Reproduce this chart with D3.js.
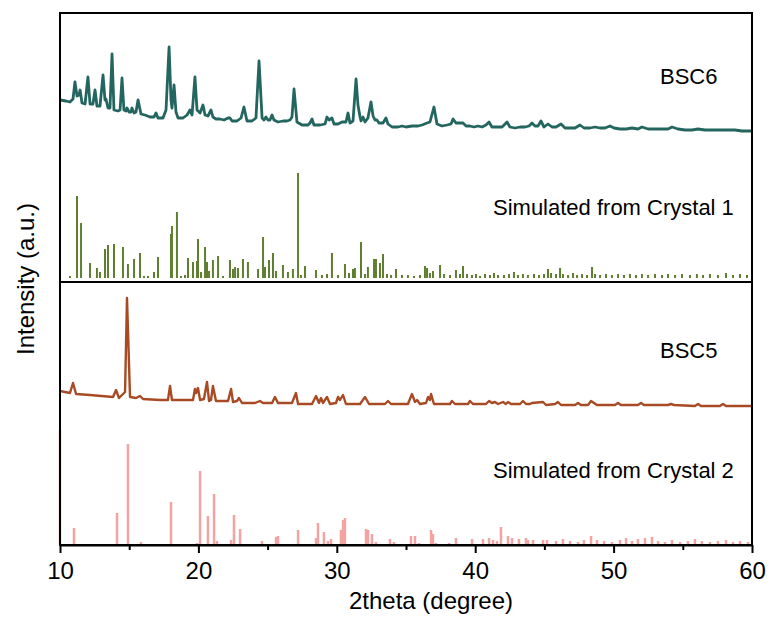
<!DOCTYPE html>
<html>
<head>
<meta charset="utf-8">
<script src="https://cdn.jsdelivr.net/npm/d3@7"></script>
<style>
  body { margin: 0; background: #fff; }
  text { font-family: "Liberation Sans", Arial, sans-serif; }
</style>
</head>
<body>
<script>
// XRD patterns, stacked with offsets (a.u.)
let seriesNames = ['BSC6', 'Simulated from Crystal 1', 'BSC5', 'Simulated from Crystal 2'];
let xTicks = [10, 20, 30, 40, 50, 60];
let xMinorTicks = [15, 25, 35, 45, 55];

// measured pattern of BSC6: [2theta, intensity]
let bsc6 = [
  [10.00,45],[10.43,44],[10.72,43],[10.94,46],[11.08,63],[11.23,49],[11.37,50],[11.45,55],[11.59,42],[11.81,41],
  [12.02,68],[12.17,41],[12.38,41],[12.53,55],[12.67,39],[12.89,39],[13.11,70],[13.25,45],[13.32,46],[13.47,37],
  [13.61,37],[13.76,91],[13.90,35],[14.19,34],[14.34,35],[14.48,67],[14.62,35],[14.77,34],[14.84,37],[14.99,33],
  [15.13,33],[15.20,37],[15.35,32],[15.49,33],[15.64,45],[15.85,31],[16.14,30],[16.50,28],[16.79,28],[16.94,32],
  [17.08,27],[17.44,27],[17.66,35],[17.88,98],[18.02,45],[18.09,37],[18.24,60],[18.38,33],[18.53,27],[18.89,27],
  [19.18,30],[19.39,35],[19.54,30],[19.75,68],[19.90,35],[20.12,32],[20.33,40],[20.48,30],[20.69,29],[20.91,35],
  [21.05,28],[21.27,26],[21.56,26],[21.85,25],[22.14,27],[22.28,27],[22.43,24],[22.79,24],[23.08,27],[23.29,38],
  [23.51,24],[23.87,24],[24.16,27],[24.38,84],[24.60,27],[24.74,25],[24.88,28],[25.03,25],[25.17,25],[25.32,30],
  [25.46,25],[25.75,23],[26.11,24],[26.40,24],[26.62,25],[26.76,28],[26.91,56],[27.12,23],[27.49,20],[27.92,20],
  [28.06,22],[28.21,26],[28.35,20],[28.79,20],[29.15,21],[29.29,28],[29.44,25],[29.65,27],[29.80,21],[30.09,21],
  [30.38,23],[30.66,23],[30.81,32],[30.95,22],[31.17,24],[31.39,66],[31.53,40],[31.68,28],[31.75,24],[31.89,28],
  [32.04,23],[32.25,27],[32.47,43],[32.62,29],[32.76,25],[32.90,25],[33.05,22],[33.34,22],[33.55,27],[33.70,21],
  [33.99,18],[34.42,18],[34.71,19],[35.00,18],[35.43,19],[35.87,19],[36.16,20],[36.52,22],[36.73,23],[37.02,38],
  [37.24,21],[37.60,19],[37.96,20],[38.25,21],[38.40,26],[38.61,22],[38.90,22],[39.12,22],[39.34,19],[39.62,19],
  [39.91,18],[40.20,19],[40.49,18],[40.78,20],[41.00,23],[41.21,18],[41.57,18],[41.94,18],[42.30,23],[42.51,18],
  [42.88,17],[43.24,18],[43.60,18],[43.89,19],[44.10,22],[44.32,19],[44.54,19],[44.75,24],[44.97,18],[45.26,21],
  [45.55,18],[45.84,18],[46.20,21],[46.49,17],[46.85,17],[47.21,17],[47.57,20],[47.86,17],[48.29,17],[48.66,18],
  [49.02,17],[49.38,17],[49.74,19],[50.03,17],[50.46,16],[50.90,16],[51.33,17],[51.76,16],[52.05,18],[52.49,16],
  [52.99,16],[53.50,16],[53.93,16],[54.22,18],[54.65,16],[55.16,15],[55.66,15],[56.10,16],[56.60,15],[57.11,15],
  [57.68,15],[58.27,15],[58.77,15],[59.28,14],[60.00,14]
];

// simulated peaks of Crystal 1: [2theta, intensity]
let crystal1 = [
  [10.72,2],[11.23,82],[11.52,55],[12.17,15],[12.67,10],[12.89,6],[13.25,29],[13.47,33],[13.90,34],[14.55,31],
  [14.91,14],[15.35,19],[15.78,25],[16.07,2],[16.36,2],[16.79,6],[17.08,21],[18.02,44],[18.09,52],[18.45,66],
  [18.74,2],[19.03,3],[19.25,20],[19.61,16],[19.90,17],[19.97,39],[20.19,6],[20.48,31],[20.62,16],[20.77,7],
  [21.05,18],[21.42,22],[21.78,2],[22.28,18],[22.50,9],[22.65,11],[22.86,10],[23.22,19],[23.58,16],[24.31,9],
  [24.67,41],[24.81,11],[25.10,18],[25.39,25],[25.61,7],[26.11,13],[26.47,6],[26.83,9],[27.20,105],[27.41,3],
  [27.70,12],[28.50,8],[28.93,3],[29.29,4],[29.65,25],[30.09,3],[30.59,14],[30.88,5],[31.17,9],[31.31,10],
  [31.75,36],[32.04,4],[32.25,11],[32.69,19],[32.83,19],[33.12,15],[33.34,24],[33.63,4],[33.92,3],[34.28,9],
  [34.71,3],[35.14,3],[35.58,2],[36.01,3],[36.37,12],[36.52,10],[36.73,5],[36.95,7],[37.46,13],[37.75,4],
  [38.18,3],[38.61,8],[38.90,4],[39.12,12],[39.41,4],[39.77,3],[40.06,4],[40.35,2],[40.71,4],[41.07,3],
  [41.36,5],[41.65,3],[42.08,3],[42.44,4],[42.80,6],[43.09,3],[43.45,4],[43.81,3],[44.25,4],[44.61,3],
  [44.97,4],[45.26,9],[45.48,5],[45.84,4],[46.13,10],[46.34,4],[46.71,3],[47.07,5],[47.36,3],[47.72,4],
  [48.08,3],[48.44,11],[48.66,4],[49.02,3],[49.45,4],[49.88,3],[50.32,4],[50.75,3],[51.18,4],[51.62,3],
  [52.05,4],[52.49,3],[52.99,4],[53.50,3],[53.93,4],[54.44,3],[54.94,4],[55.52,3],[56.02,4],[56.46,3],
  [56.96,4],[57.54,3],[58.12,5],[58.63,3],[59.13,4],[59.64,3]
];

// measured pattern of BSC5: [2theta, intensity]
let bsc5 = [
  [10.00,24],[10.72,22],[10.94,32],[11.16,21],[12.17,20],[13.83,18],[14.05,25],[14.26,17],[14.70,23],[14.84,117],
  [15.06,18],[15.49,17],[15.78,19],[16.00,16],[17.23,15],[17.80,15],[17.95,29],[18.09,15],[19.03,15],[19.61,15],
  [19.75,26],[19.83,22],[19.97,27],[20.12,15],[20.40,16],[20.62,33],[20.77,14],[20.91,15],[21.05,29],[21.27,14],
  [22.14,14],[22.36,26],[22.50,13],[22.79,14],[22.93,17],[23.15,12],[24.09,12],[24.45,14],[24.67,12],[25.32,12],
  [25.53,18],[25.75,12],[26.76,12],[27.05,22],[27.20,11],[28.21,11],[28.50,19],[28.71,12],[28.86,17],[29.00,12],
  [29.29,18],[29.51,11],[29.94,12],[30.09,18],[30.23,15],[30.45,20],[30.66,11],[31.68,11],[32.04,18],[32.33,11],
  [33.48,11],[33.70,14],[33.92,11],[35.14,11],[35.43,21],[35.65,13],[35.80,15],[36.01,11],[36.45,12],[36.59,18],
  [36.73,15],[36.81,21],[37.02,11],[38.18,11],[38.32,14],[38.54,11],[39.48,11],[39.62,14],[39.84,11],[40.78,11],
  [41.00,14],[41.21,12],[41.43,13],[41.65,11],[42.01,13],[42.22,11],[42.37,13],[42.59,11],[43.24,11],[43.45,14],
  [43.67,11],[43.96,11],[44.10,12],[44.90,13],[45.12,10],[45.77,11],[45.98,13],[46.20,10],[47.21,10],[47.43,12],
  [47.64,10],[48.15,10],[48.37,14],[48.58,12],[48.80,10],[50.10,10],[50.32,12],[50.53,10],[51.76,10],[51.98,12],
  [52.20,10],[53.93,10],[54.15,11],[54.37,10],[55.88,9],[56.10,11],[56.31,9],[57.68,9],[57.90,11],[58.12,9],
  [60.00,9]
];

// simulated peaks of Crystal 2: [2theta, intensity]
let crystal2 = [
  [10.00,115],[11.01,17],[14.12,32],[14.91,101],[15.85,3],[18.02,43],[19.90,2],[20.12,74],[20.69,29],[21.13,51],
  [21.34,4],[22.36,5],[22.57,30],[23.01,16],[24.60,4],[25.61,8],[25.75,9],[27.20,15],[28.50,7],[28.64,22],
  [29.07,13],[29.36,4],[29.58,6],[30.30,15],[30.45,25],[30.59,27],[32.11,16],[32.25,15],[32.54,11],[32.83,3],
  [33.84,6],[34.13,3],[35.36,9],[35.65,9],[35.94,2],[36.81,15],[36.95,11],[37.17,2],[38.11,2],[38.61,7],
  [39.77,6],[40.56,6],[41.00,7],[41.29,5],[41.57,4],[41.86,18],[42.37,9],[42.66,7],[43.16,6],[43.67,7],
  [43.81,5],[44.18,5],[44.90,5],[45.19,5],[45.84,4],[46.34,6],[46.85,4],[47.43,3],[47.86,5],[48.37,9],
  [48.80,5],[49.31,4],[49.88,3],[50.46,5],[50.90,7],[51.33,4],[51.76,6],[52.27,7],[52.77,8],[53.21,4],
  [53.71,3],[54.22,5],[54.80,3],[55.37,4],[55.88,6],[56.38,4],[56.96,3],[57.54,4],[58.12,5],[58.63,3],
  [59.13,4],[59.71,3]
];

// vertical offsets of the stacked patterns (a.u.)
let offsets = [400, 267, 130, 0];

let w = 772;
let h = 621;
let mLeft = 60, mRight = 752, mTop = 13, mBottom = 545;

let svg = d3.select('body').append('svg')
    .attr('width', w)
    .attr('height', h);

let x = d3.scaleLinear().domain([10, 60]).range([mLeft, mRight]);
let y = d3.scaleLinear().domain([0, 532]).range([mBottom, mTop]);

// measured patterns as lines
function drawLine(data, off, color, width) {
    let line = d3.line()
        .x(d => x(d[0]))
        .y(d => y(d[1] + off));
    svg.append('path')
        .datum(data)
        .attr('d', line)
        .attr('fill', 'none')
        .attr('stroke', color)
        .attr('stroke-width', width)
        .attr('stroke-linejoin', 'round');
}

// simulated patterns as sticks
function drawSticks(data, off, color, width) {
    svg.append('g').selectAll('line')
        .data(data)
        .enter()
        .append('line')
        .attr('x1', d => x(d[0]))
        .attr('x2', d => x(d[0]))
        .attr('y1', y(off))
        .attr('y2', d => y(d[1] + off))
        .attr('stroke', color)
        .attr('stroke-width', width);
}

drawSticks(crystal2, offsets[3], '#f4a3a3', 2.5);
drawLine(bsc5, offsets[2], '#a84b24', 2.4);
drawSticks(crystal1, offsets[1], '#5f7e30', 2);
drawLine(bsc6, offsets[0], '#23655f', 2.8);

// divider between the two halves
svg.append('line')
    .attr('x1', mLeft).attr('x2', mRight)
    .attr('y1', y(263)).attr('y2', y(263))
    .attr('stroke', '#000')
    .attr('stroke-width', 2);

// frame
svg.append('rect')
    .attr('x', mLeft).attr('y', mTop)
    .attr('width', mRight - mLeft).attr('height', mBottom - mTop)
    .attr('fill', 'none')
    .attr('stroke', '#000')
    .attr('stroke-width', 2);

// x axis
let xAxis = svg.append('g')
    .attr('transform', 'translate(0,' + mBottom + ')')
    .call(d3.axisBottom(x).tickValues(xTicks).tickSize(8).tickPadding(9).tickSizeOuter(0));
xAxis.select('.domain').attr('stroke-width', 2);
xAxis.selectAll('.tick line').attr('stroke-width', 2);
xAxis.selectAll('text')
    .attr('font-size', 24)
    .attr('font-family', '"Liberation Sans", Arial, sans-serif')
    .attr('fill', '#000');

let xMinor = svg.append('g')
    .attr('transform', 'translate(0,' + mBottom + ')')
    .call(d3.axisBottom(x).tickValues(xMinorTicks).tickSize(5).tickFormat(''));
xMinor.select('.domain').remove();
xMinor.selectAll('.tick line').attr('stroke-width', 2);

// axis titles
svg.append('text')
    .text('2theta (degree)')
    .attr('x', 431)
    .attr('y', 609)
    .attr('text-anchor', 'middle')
    .attr('font-size', 24);

svg.append('text')
    .text('Intensity (a.u.)')
    .attr('transform', 'translate(34,279) rotate(-90)')
    .attr('text-anchor', 'middle')
    .attr('font-size', 24);

// pattern labels
let labelPos = [[660, 84], [493, 215], [660, 358], [493, 478]];
svg.selectAll('.lbl')
    .data(seriesNames)
    .enter()
    .append('text')
    .attr('class', 'lbl')
    .text(d => d)
    .attr('x', (d, i) => labelPos[i][0])
    .attr('y', (d, i) => labelPos[i][1])
    .attr('font-size', 22)
    .attr('fill', '#000');
</script>
</body>
</html>
